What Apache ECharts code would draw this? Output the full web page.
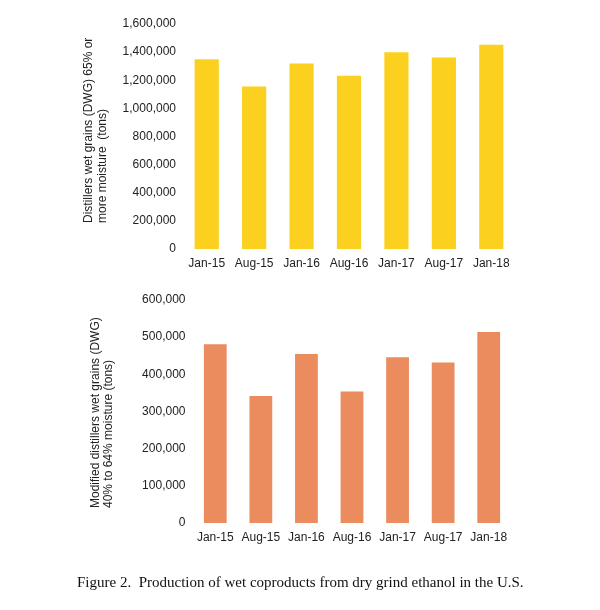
<!DOCTYPE html>
<html>
<head>
<meta charset="utf-8">
<script src="https://cdn.jsdelivr.net/npm/echarts@6/dist/echarts.min.js"></script>
<style>
html,body{margin:0;padding:0;background:#fff;}
#chart{width:600px;height:610px;}
</style>
</head>
<body>
<div id="chart"></div>
<script>
var categories = ['Jan-15','Aug-15','Jan-16','Aug-16','Jan-17','Aug-17','Jan-18'];
var dwgValues = [1350000, 1155000, 1320000, 1232000, 1400000, 1362000, 1452000];
var mdwgValues = [481000, 342000, 455000, 354000, 446000, 432000, 514000];
var dwgAxisTitle = 'Distillers wet grains (DWG) 65% or\nmore moisture  (tons)';
var mdwgAxisTitle = 'Modified distillers wet grains (DWG)\n40% to 64% moisture (tons)';
var caption = 'Figure 2.  Production of wet coproducts from dry grind ethanol in the U.S.';

var textColor = '#222';
var fontFam = 'Arial, "Liberation Sans", sans-serif';
function fmt(v){ return v.toLocaleString('en-US'); }

var chart = echarts.init(document.getElementById('chart'));
chart.setOption({
  backgroundColor: '#fff',
  animation: false,
  title: {
    text: caption,
    left: 72, top: 571,
    textStyle: {fontFamily: '"Liberation Serif", "Times New Roman", serif', fontSize: 15, fontWeight: 'normal', color: '#111'}
  },
  grid: [
    {left: 183, right: 85, top: 24, height: 225},
    {left: 192.5, right: 88.5, top: 300, height: 223}
  ],
  xAxis: [
    {type: 'category', gridIndex: 0, data: categories,
     axisLine: {show: false}, axisTick: {show: false},
     axisLabel: {color: textColor, fontSize: 12, fontFamily: fontFam, margin: 9, interval: 0}},
    {type: 'category', gridIndex: 1, data: categories,
     axisLine: {show: false}, axisTick: {show: false},
     axisLabel: {color: textColor, fontSize: 12, fontFamily: fontFam, margin: 9, interval: 0}}
  ],
  yAxis: [
    {type: 'value', gridIndex: 0, min: 0, max: 1600000, interval: 200000,
     axisLine: {show: false}, axisTick: {show: false}, splitLine: {show: false},
     axisLabel: {color: textColor, fontSize: 12, fontFamily: fontFam, margin: 7, formatter: fmt}},
    {type: 'value', gridIndex: 1, min: 0, max: 600000, interval: 100000,
     axisLine: {show: false}, axisTick: {show: false}, splitLine: {show: false},
     axisLabel: {color: textColor, fontSize: 12, fontFamily: fontFam, margin: 7, formatter: fmt}}
  ],
  series: [
    {type: 'bar', xAxisIndex: 0, yAxisIndex: 0, data: dwgValues, barWidth: '51%',
     itemStyle: {color: '#FCD01F'}},
    {type: 'bar', xAxisIndex: 1, yAxisIndex: 1, data: mdwgValues, barWidth: '50%',
     itemStyle: {color: '#EA8C5E'}}
  ],
  graphic: [
    {type: 'text', x: 96, y: 223, rotation: Math.PI / 2,
     style: {text: dwgAxisTitle, font: '12px ' + fontFam, fill: textColor,
             textAlign: 'left', textVerticalAlign: 'middle', lineHeight: 14}},
    {type: 'text', x: 102, y: 508, rotation: Math.PI / 2,
     style: {text: mdwgAxisTitle, font: '12px ' + fontFam, fill: textColor,
             textAlign: 'left', textVerticalAlign: 'middle', lineHeight: 13}}
  ]
});
</script>
</body>
</html>
